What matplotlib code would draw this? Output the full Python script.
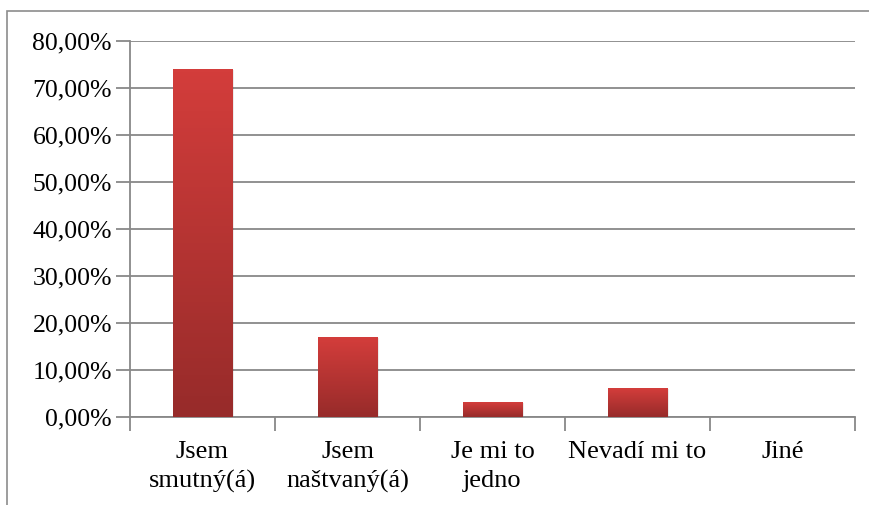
import numpy as np
import matplotlib
matplotlib.use('Agg')
from matplotlib import pyplot as plt
from matplotlib.patches import Rectangle
from matplotlib.colors import LinearSegmentedColormap

categories = ['Jsem\nsmutný(á)', 'Jsem\nnaštvaný(á)', 'Je mi to\njedno', 'Nevadí mi to', 'Jiné']
values = [73.85, 16.92, 3.08, 6.15, 0.0]
yticks = [0, 10, 20, 30, 40, 50, 60, 70, 80]

plt.rcParams['font.family'] = ['Liberation Serif', 'DejaVu Serif']

W, H = 870, 505
fig = plt.figure(figsize=(W / 100, H / 100), dpi=100)
ax = fig.add_axes([130 / W, 1 - 417 / H, 725 / W, 376 / H])

# outer chart border
fig.patches.append(Rectangle((7 / W, -0.1), 1.2, 1.1 - 11 / H, transform=fig.transFigure,
                             fill=False, edgecolor='#8c8c8c', linewidth=1.2))

grad = LinearSegmentedColormap.from_list('bar', ['#972b2a', '#d33d3b'])
x = np.arange(len(categories))
bw = 0.41
for xi, v in zip(x, values):
    if v <= 0:
        continue
    # soft shadow
    ax.add_patch(Rectangle((xi - bw / 2 + 0.012, -0.3), bw, v + 0.2, color='#000000',
                           alpha=0.08, zorder=2, linewidth=0))
    ax.imshow(np.linspace(0, 1, 100).reshape(-1, 1), cmap=grad, aspect='auto',
              extent=(xi - bw / 2, xi + bw / 2, 0, v), origin='lower', zorder=3)

ax.set_xlim(-0.5, len(categories) - 0.5)
ax.set_ylim(0, 80)
ax.set_yticks(yticks)
ax.set_yticklabels(['%d,00%%' % t for t in yticks])
ax.yaxis.grid(True, color='#888888', linewidth=1.3)
ax.set_axisbelow(True)

ax.set_xticks(np.arange(len(categories) + 1) - 0.5)
ax.set_xticklabels([])
ax.set_xticks(x, minor=True)
ax.set_xticklabels(categories, minor=True, fontsize=19, linespacing=1.42)
ax.tick_params(axis='x', which='minor', length=0, pad=17)
ax.tick_params(axis='x', which='major', length=10, width=1.3, color='#888888')
ax.tick_params(axis='y', length=10, width=1.3, color='#888888', labelsize=18.5, pad=3)

for s in ['top', 'right']:
    ax.spines[s].set_visible(False)
for s in ['left', 'bottom']:
    ax.spines[s].set_color('#888888')
    ax.spines[s].set_linewidth(1.3)

fig.savefig('out.png', dpi=100)
